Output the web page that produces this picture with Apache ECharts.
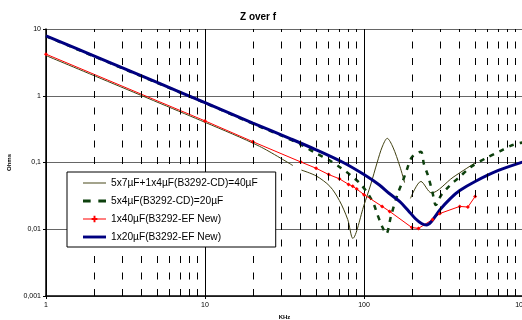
<!DOCTYPE html>
<html>
<head>
<meta charset="utf-8">
<script src="https://cdn.jsdelivr.net/npm/echarts@6/dist/echarts.min.js"></script>
<style>
  html, body { margin: 0; padding: 0; background: #fff; }
  #main { width: 522px; height: 320px; }
</style>
</head>
<body>
<div id="main"></div>
<script>
  // names of the four curves (legend order)
  const seriesNames = [
    '5x7µF+1x4µF(B3292-CD)=40µF',
    '5x4µF(B3292-CD)=20µF',
    '1x40µF(B3292-EF New)',
    '1x20µF(B3292-EF New)'
  ];

  // [KHz, Ohms], null = gap in the line
  const olivePts = [[1, 4.0], [10, 0.4], [22, 0.175], [35.7, 0.09], null, [40.4, 0.077], [50, 0.063], [61, 0.044], [70, 0.027],
    [79, 0.014], [85, 0.0073], [100, 0.023], [110, 0.046], [121, 0.1], [130, 0.17], [140, 0.23], [152, 0.17], [168, 0.088],
    [180, 0.05], null, [196, 0.029], [228, 0.052], [266, 0.035], [363, 0.06], [504, 0.1]];
  const greenPts = [[1, 7.8], [2, 3.9], [5, 1.56], [10, 0.78], [23, 0.33], [29.5, 0.26], [41, 0.18], [50, 0.137], [61, 0.107],
    [72, 0.082], [82, 0.065], [94, 0.049], [106, 0.034], [115, 0.024], [121, 0.017], [130, 0.011], [138, 0.0085], [148, 0.016],
    [163, 0.034], [175, 0.052], [185, 0.075], [200, 0.12], [228, 0.145], [238, 0.095], [253, 0.063], [270, 0.035], [283, 0.023],
    [305, 0.032], [346, 0.045], [400, 0.061], [470, 0.086], [600, 0.12], [713, 0.147], [860, 0.183], [1000, 0.2]];
  const redPts = [[1, 4.2], [10, 0.42], [20, 0.205], [40, 0.102], [50, 0.082], [60, 0.066], [70, 0.057], [80, 0.047], [85, 0.044],
    [90, 0.04], [100, 0.033], [130, 0.022], [145, 0.0185], [200, 0.0106], [220, 0.0103], [270, 0.014], [300, 0.0172], [400, 0.022],
    [450, 0.0215], [500, 0.031]];
  const bluePts = [[1, 7.9], [2, 3.95], [5, 1.58], [10, 0.79], [20, 0.39], [34, 0.23], [50, 0.155], [74, 0.1], [100, 0.066],
    [125, 0.046], [145, 0.034], [168, 0.026], [190, 0.019], [210, 0.0145], [230, 0.0122], [247, 0.0116], [265, 0.013],
    [300, 0.0195], [350, 0.029], [400, 0.038], [500, 0.052], [700, 0.076], [1000, 0.102]];

  // tick labels
  const xTickLabels = ['1', '10', '100', '1000'];
  const yTickLabels = ['0,001', '0,01', '0,1', '1', '10'];
  // dashed minor gridlines at 2..9 of every decade
  const minorX = [2, 3, 4, 5, 6, 7, 8, 9, 20, 30, 40, 50, 60, 70, 80, 90, 200, 300, 400, 500, 600, 700, 800, 900];

  const font = 'Liberation Sans, Arial, sans-serif';
  const colors = ['#404010', '#0d400d', '#ff0000', '#000080'];
  // legend icons: plain line, two dashes, line with a cross, thick line
  const legendIcons = [
    'path://M0,0H24V1H0Z',
    'path://M0,0H8V3H0Z M16,0H24V3H16Z',
    'path://M0,3H24V4H0Z M11,0H13V7H11Z M9,2.5H15V4.5H9Z',
    'path://M0,0H24V3H0Z'
  ];

  const chart = echarts.init(document.getElementById('main'), null, {renderer: 'canvas'});

  const option = {
    animation: false,
    backgroundColor: '#fff',
    title: {
      text: 'Z over f', left: 235, top: 7,
      textStyle: {fontFamily: font, fontSize: 10, fontWeight: 'bold', color: '#000'}
    },
    grid: {left: 46, top: 29, width: 477, height: 267, outerBoundsMode: 'none', containLabel: false},
    legend: {
      z: 20,
      data: seriesNames.map((n, i) => ({name: n, icon: legendIcons[i], itemStyle: {color: colors[i], borderWidth: 0}})),
      orient: 'vertical',
      left: 67, top: 172,
      padding: [6, 18, 5, 16],
      itemGap: 8,
      itemWidth: 23, itemHeight: 10,
      backgroundColor: '#ffffff',
      borderColor: '#000', borderWidth: 1,
      itemStyle: {borderWidth: 0},
      textStyle: {fontFamily: font, fontSize: 10.2, color: '#000'}
    },
    xAxis: {
      type: 'log', logBase: 10, min: 1, max: 1000,
      name: 'KHz', nameLocation: 'middle', nameGap: 17,
      nameTextStyle: {fontFamily: font, fontSize: 6, fontWeight: 'bold', color: '#000'},
      axisLine: {lineStyle: {color: '#000', width: 1.5}},
      axisTick: {length: 3, lineStyle: {color: '#000'}},
      axisLabel: {
        fontFamily: font, fontSize: 7, color: '#000', margin: 6,
        formatter: v => xTickLabels[Math.round(Math.log10(v))]
      },
      splitLine: {show: true, lineStyle: {color: '#000', width: 1}}
    },
    yAxis: {
      type: 'log', logBase: 10, min: 0.001, max: 10,
      name: 'Ohms', nameLocation: 'middle', nameGap: 29,
      nameTextStyle: {fontFamily: font, fontSize: 6, fontWeight: 'bold', color: '#000'},
      axisLine: {lineStyle: {color: '#000', width: 1.5}},
      axisTick: {length: 3, lineStyle: {color: '#000'}},
      axisLabel: {
        fontFamily: font, fontSize: 7, color: '#000', margin: 5,
        formatter: v => yTickLabels[Math.round(Math.log10(v)) + 3]
      },
      splitLine: {show: true, lineStyle: {color: '#666', width: 1}}
    },
    series: [
      {
        // holder for the dashed minor gridlines
        name: 'grid', type: 'line', data: [], z: 1, silent: true,
        markLine: {
          silent: true, symbol: 'none', label: {show: false},
          lineStyle: {color: '#000', width: 1, type: [7, 9.5]},
          data: minorX.map(v => ({xAxis: v}))
        }
      },
      {
        name: seriesNames[0], type: 'line', data: olivePts, smooth: 0.3,
        showSymbol: false, symbol: 'none', connectNulls: false,
        lineStyle: {color: colors[0], width: 1}, itemStyle: {color: colors[0]}
      },
      {
        name: seriesNames[1], type: 'line', data: greenPts, smooth: 0.3,
        showSymbol: false, symbol: 'none',
        lineStyle: {color: colors[1], width: 2.5, type: [5, 6]}, itemStyle: {color: colors[1]}
      },
      {
        name: seriesNames[2], type: 'line', data: redPts,
        symbol: 'diamond', symbolSize: 4, showSymbol: true,
        lineStyle: {color: colors[2], width: 1}, itemStyle: {color: colors[2]}
      },
      {
        name: seriesNames[3], type: 'line', data: bluePts, smooth: 0.3,
        showSymbol: false, symbol: 'none',
        lineStyle: {color: colors[3], width: 3}, itemStyle: {color: colors[3]}
      }
    ]
  };

  chart.setOption(option);
</script>
</body>
</html>
